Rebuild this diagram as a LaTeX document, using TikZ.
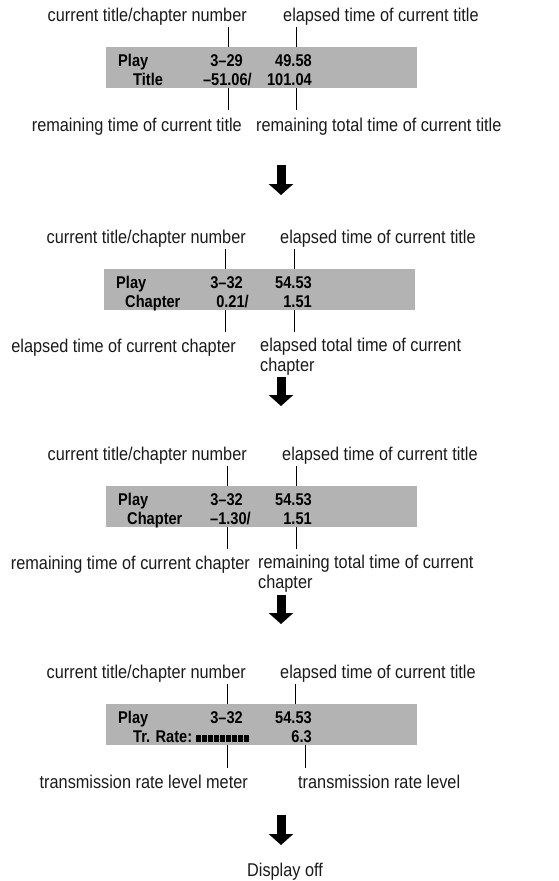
\documentclass[tikz,border=0pt]{standalone}
\usepackage{fontspec}
\setmainfont{Liberation Sans}
\newfontfamily\lblfont[Ligatures=TeX,FakeStretch=0.88]{Liberation Sans}
\newfontfamily\lcdfont[Ligatures=TeX,FakeStretch=0.86]{Liberation Sans}
\definecolor{lcdgrey}{HTML}{B3B3B3}
\definecolor{ink}{HTML}{1A1A1A}
\usepackage{tikz}
\usetikzlibrary{arrows.meta,positioning,calc}
\tikzset{
  lcd_box/.style={fill=lcdgrey,draw=none,inner sep=0pt,minimum width=311pt,minimum height=41pt,anchor=north west},
  lcd_txt/.style={inner sep=0pt,font=\lcdfont\fontsize{17}{19}\selectfont\bfseries,text=black},
  lbl/.style={inner sep=0pt,font=\lblfont\fontsize{18.5}{20}\selectfont,text=ink,align=left},
  tick/.style={draw=black,line width=0.9pt},
  arr_down/.style={draw=black,line width=9pt,-{Triangle[width=24pt,length=11pt]}},
}
\begin{document}
\begin{tikzpicture}[x=1pt,y=-1pt]
    \useasboundingbox (0,0) rectangle (559,881);

    \node[lbl,anchor=base east] (cur1) at (247,21) {current title/chapter number};
    \node[lbl,anchor=base west] (ela1) at (283,21) {elapsed time of current title};
    \node[lcd_box] (box1) at (106,47) {};
    \node[lcd_txt,anchor=base west] (play1) at (118,66) {Play};
    \node[lcd_txt,anchor=base east] (num1) at (243,66) {3--29};
    \node[lcd_txt,anchor=base east] (tim1) at (312,66) {49.58};
    \node[lcd_txt,anchor=base west] (mode1) at (133,85) {Title};
    \node[lcd_txt,anchor=base east] (rem1) at (252,85) {--51.06/};
    \node[lcd_txt,anchor=base east] (tot1) at (312,85) {101.04};
    \node[lbl,anchor=base east] (low1a) at (242,131) {remaining time of current title};
    \node[lbl,anchor=base west] (low1b) at (256,131) {remaining total time of current title};
    \coordinate (t1a) at (228,27); \coordinate (t1b) at (296,27);
    \coordinate (b1a) at (228,110); \coordinate (b1b) at (296,110);
    \draw[tick] (t1a) -- (t1a |- box1.north); \draw[tick] (t1b) -- (t1b |- box1.north);
    \draw[tick] (b1a) -- (b1a |- box1.south); \draw[tick] (b1b) -- (b1b |- box1.south);

    \coordinate (a1s) at (281,165); \coordinate (a1e) at (281,195);
    \draw[arr_down] (a1s) -- (a1e);

    \node[lbl,anchor=base east] (cur2) at (246,243) {current title/chapter number};
    \node[lbl,anchor=base west] (ela2) at (280,243) {elapsed time of current title};
    \node[lcd_box] (box2) at (104,269) {};
    \node[lcd_txt,anchor=base west] (play2) at (116,288) {Play};
    \node[lcd_txt,anchor=base east] (num2) at (243,288) {3--32};
    \node[lcd_txt,anchor=base east] (tim2) at (312,288) {54.53};
    \node[lcd_txt,anchor=base west] (mode2) at (125,307) {Chapter};
    \node[lcd_txt,anchor=base east] (rem2) at (249,307) {0.21/};
    \node[lcd_txt,anchor=base east] (tot2) at (312,307) {1.51};
    \node[lbl,anchor=base east] (low2a) at (236,352) {elapsed time of current chapter};
    \node[lbl,anchor=north west] (low2b) at (260,338) {elapsed total time of current\\chapter};
    \coordinate (t2a) at (225,249); \coordinate (t2b) at (294,249);
    \coordinate (b2a) at (225,332); \coordinate (b2b) at (294,332);
    \draw[tick] (t2a) -- (t2a |- box2.north); \draw[tick] (t2b) -- (t2b |- box2.north);
    \draw[tick] (b2a) -- (b2a |- box2.south); \draw[tick] (b2b) -- (b2b |- box2.south);

    \coordinate (a2s) at (281,377); \coordinate (a2e) at (281,406);
    \draw[arr_down] (a2s) -- (a2e);

    \node[lbl,anchor=base east] (cur3) at (247,460) {current title/chapter number};
    \node[lbl,anchor=base west] (ela3) at (282,460) {elapsed time of current title};
    \node[lcd_box] (box3) at (106,486) {};
    \node[lcd_txt,anchor=base west] (play3) at (118,505) {Play};
    \node[lcd_txt,anchor=base east] (num3) at (243,505) {3--32};
    \node[lcd_txt,anchor=base east] (tim3) at (312,505) {54.53};
    \node[lcd_txt,anchor=base west] (mode3) at (127,524) {Chapter};
    \node[lcd_txt,anchor=base east] (rem3) at (251,524) {--1.30/};
    \node[lcd_txt,anchor=base east] (tot3) at (312,524) {1.51};
    \node[lbl,anchor=base east] (low3a) at (250,569) {remaining time of current chapter};
    \node[lbl,anchor=north west] (low3b) at (258,555) {remaining total time of current\\chapter};
    \coordinate (t3a) at (227,466); \coordinate (t3b) at (296,466);
    \coordinate (b3a) at (227,549); \coordinate (b3b) at (296,549);
    \draw[tick] (t3a) -- (t3a |- box3.north); \draw[tick] (t3b) -- (t3b |- box3.north);
    \draw[tick] (b3a) -- (b3a |- box3.south); \draw[tick] (b3b) -- (b3b |- box3.south);

    \coordinate (a3s) at (281,595); \coordinate (a3e) at (281,624);
    \draw[arr_down] (a3s) -- (a3e);

    \node[lbl,anchor=base east] (cur4) at (246,678) {current title/chapter number};
    \node[lbl,anchor=base west] (ela4) at (280,678) {elapsed time of current title};
    \node[lcd_box] (box4) at (106,704) {};
    \node[lcd_txt,anchor=base west] (play4) at (118,723) {Play};
    \node[lcd_txt,anchor=base east] (num4) at (243,723) {3--32};
    \node[lcd_txt,anchor=base east] (tim4) at (312,723) {54.53};
    \node[lcd_txt,anchor=base west] (mode4) at (133,742) {Tr. Rate:};
    \foreach \i in {0,...,8}
      \fill[black] ($(mode4.base east)+(4+\i*6,0)$) rectangle ++(5,-7.5);
    \node[lcd_txt,anchor=base east] (rate4) at (312,742) {6.3};
    \node[lbl,anchor=base east] (low4a) at (248,788) {transmission rate level meter};
    \node[lbl,anchor=base west] (low4b) at (298,788) {transmission rate level};
    \coordinate (t4a) at (227,684); \coordinate (t4b) at (295,684);
    \coordinate (b4a) at (227,768); \coordinate (b4b) at (305,768);
    \draw[tick] (t4a) -- (t4a |- box4.north); \draw[tick] (t4b) -- (t4b |- box4.north);
    \draw[tick] (b4a) -- (b4a |- box4.south); \draw[tick] (b4b) -- (b4b |- box4.south);

    \coordinate (a4s) at (281,815); \coordinate (a4e) at (281,845);
    \draw[arr_down] (a4s) -- (a4e);
    \node[lbl,anchor=base] (off) at (285,876) {Display off};
  \end{tikzpicture}
\end{document}
